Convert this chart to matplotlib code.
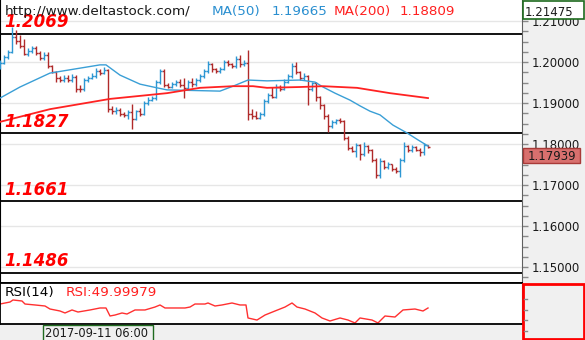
import numpy as np
import matplotlib
matplotlib.use("Agg")
import matplotlib.pyplot as plt
from matplotlib.patches import Rectangle

# EURUSD H4 bars
bar_open = [1.1985, 1.1998, 1.2012, 1.2025, 1.2060, 1.2052, 1.2038, 1.2020, 1.2028, 1.2035,
            1.2022, 1.2010, 1.2018, 1.1990, 1.1976, 1.1960, 1.1955, 1.1962, 1.1956, 1.1964,
            1.1935, 1.1933, 1.1955, 1.1962, 1.1966, 1.1978, 1.1974, 1.1980, 1.1885, 1.1880,
            1.1884, 1.1874, 1.1870, 1.1878, 1.1862, 1.1880, 1.1874, 1.1900, 1.1908, 1.1912,
            1.1950, 1.1978, 1.1944, 1.1940, 1.1946, 1.1950, 1.1944, 1.1936, 1.1950, 1.1946,
            1.1956, 1.1966, 1.1978, 1.1994, 1.1982, 1.1978, 1.1984, 1.2000, 1.1994, 1.1990,
            1.2008, 1.1994, 1.1998, 1.1872, 1.1868, 1.1864, 1.1872, 1.1905, 1.1920, 1.1915,
            1.1940, 1.1935, 1.1952, 1.1965, 1.1990, 1.1975, 1.1960, 1.1966, 1.1935, 1.1948,
            1.1915, 1.1895, 1.1868, 1.1845, 1.1854, 1.1858, 1.1856, 1.1815, 1.1790, 1.1784,
            1.1798, 1.1775, 1.1795, 1.1785, 1.1762, 1.1725, 1.1758, 1.1745, 1.1750, 1.1740,
            1.1735, 1.1760, 1.1795, 1.1785, 1.1792, 1.1786, 1.1780, 1.1797]
bar_high = [1.2005, 1.2016, 1.2030, 1.2085, 1.2078, 1.2066, 1.2055, 1.2034, 1.2040, 1.2040,
            1.2026, 1.2024, 1.2025, 1.1992, 1.1978, 1.1966, 1.1968, 1.1968, 1.1970, 1.1968,
            1.1945, 1.1960, 1.1966, 1.1972, 1.1985, 1.1984, 1.1988, 1.1984, 1.1892, 1.1890,
            1.1888, 1.1878, 1.1882, 1.1898, 1.1884, 1.1888, 1.1905, 1.1914, 1.1918, 1.1955,
            1.1983, 1.1984, 1.1948, 1.1950, 1.1956, 1.1958, 1.1962, 1.1956, 1.1960, 1.1962,
            1.1970, 1.1982, 1.2003, 1.1998, 1.1986, 1.1988, 1.2004, 1.2004, 1.1998, 1.2014,
            1.2018, 1.2004, 1.2030, 1.1885, 1.1880, 1.1878, 1.1910, 1.1925, 1.1940, 1.1946,
            1.1944, 1.1958, 1.1970, 1.1998, 1.2000, 1.1978, 1.1972, 1.1968, 1.1952, 1.1952,
            1.1918, 1.1898, 1.1872, 1.1858, 1.1862, 1.1864, 1.1858, 1.1820, 1.1795, 1.1803,
            1.1800, 1.1805, 1.1798, 1.1788, 1.1765, 1.1765, 1.1762, 1.1756, 1.1752, 1.1745,
            1.1765, 1.1805, 1.1798, 1.1798, 1.1796, 1.1790, 1.1802, 1.1798]
bar_low = [1.1983, 1.1995, 1.2008, 1.2022, 1.2045, 1.2034, 1.2016, 1.2014, 1.2022, 1.2016,
           1.2005, 1.2006, 1.1986, 1.1972, 1.1952, 1.1950, 1.1950, 1.1952, 1.1952, 1.1927,
           1.1928, 1.1930, 1.1950, 1.1958, 1.1962, 1.1968, 1.1970, 1.1878, 1.1872, 1.1874,
           1.1868, 1.1865, 1.1860, 1.1836, 1.1858, 1.1868, 1.1870, 1.1894, 1.1904, 1.1908,
           1.1946, 1.1940, 1.1936, 1.1936, 1.1942, 1.1940, 1.1912, 1.1932, 1.1940, 1.1942,
           1.1952, 1.1962, 1.1974, 1.1976, 1.1974, 1.1972, 1.1980, 1.1990, 1.1986, 1.1986,
           1.1988, 1.1990, 1.1858, 1.1862, 1.1860, 1.1860, 1.1868, 1.1900, 1.1912, 1.1912,
           1.1930, 1.1932, 1.1948, 1.1960, 1.1970, 1.1955, 1.1956, 1.1895, 1.1930, 1.1905,
           1.1885, 1.1860, 1.1830, 1.1840, 1.1848, 1.1850, 1.1810, 1.1785, 1.1780, 1.1768,
           1.1760, 1.1770, 1.1778, 1.1755, 1.1717, 1.1718, 1.1740, 1.1740, 1.1735, 1.1730,
           1.1720, 1.1756, 1.1780, 1.1780, 1.1782, 1.1770, 1.1772, 1.1790]
bar_close = [1.1998, 1.2012, 1.2025, 1.2060, 1.2052, 1.2038, 1.2020, 1.2028, 1.2035, 1.2022,
             1.2010, 1.2018, 1.1990, 1.1976, 1.1960, 1.1955, 1.1962, 1.1956, 1.1964, 1.1935,
             1.1933, 1.1955, 1.1962, 1.1966, 1.1978, 1.1974, 1.1980, 1.1885, 1.1880, 1.1884,
             1.1874, 1.1870, 1.1878, 1.1862, 1.1880, 1.1874, 1.1900, 1.1908, 1.1912, 1.1950,
             1.1978, 1.1944, 1.1940, 1.1946, 1.1950, 1.1944, 1.1936, 1.1950, 1.1946, 1.1956,
             1.1966, 1.1978, 1.1994, 1.1982, 1.1978, 1.1984, 1.2000, 1.1994, 1.1990, 1.2008,
             1.1994, 1.1998, 1.1872, 1.1868, 1.1864, 1.1872, 1.1905, 1.1920, 1.1915, 1.1940,
             1.1935, 1.1952, 1.1965, 1.1990, 1.1975, 1.1960, 1.1966, 1.1935, 1.1948, 1.1915,
             1.1895, 1.1868, 1.1845, 1.1854, 1.1858, 1.1856, 1.1815, 1.1790, 1.1784, 1.1798,
             1.1775, 1.1795, 1.1785, 1.1762, 1.1725, 1.1758, 1.1745, 1.1750, 1.1740, 1.1735,
             1.1760, 1.1795, 1.1785, 1.1792, 1.1786, 1.1780, 1.1797, 1.17939]

# moving averages, sampled at bar positions
ma50_idx = [0, 5, 12.5, 25, 26.5, 30, 35, 39.25, 41.75, 55, 58.25, 62, 66.75, 75, 78.75,
            80.75, 83.75, 87.5, 90, 92.5, 95, 98.25, 101.75, 104.5, 107]
ma50_val = [1.1912, 1.1939, 1.1973, 1.1993, 1.1993, 1.1968, 1.1946, 1.1937, 1.1932, 1.1929,
            1.1941, 1.1956, 1.1954, 1.1956, 1.1951, 1.1939, 1.1924, 1.1907, 1.1893, 1.1880,
            1.1871, 1.1846, 1.1827, 1.1810, 1.1795]
ma200_idx = [0, 12.5, 27.5, 41.75, 50, 58.25, 63.25, 66.75, 75, 80.75, 89.25, 97.5, 107]
ma200_val = [1.1854, 1.1885, 1.1910, 1.1924, 1.1937, 1.1941, 1.1941, 1.1937, 1.1939, 1.1941,
             1.1937, 1.1924, 1.1912]

rsi_idx = [0, 2.5, 3.25, 5.5, 6.25, 8.75, 11.25, 12.5, 15, 16.25, 18, 19.5, 22.5, 25, 26.5,
           27.5, 28.75, 30.5, 31.75, 33.75, 36.25, 38.75, 40, 41.25, 46.25, 47.5, 48.75, 51.25,
           52, 53.75, 55.5, 58, 60, 61.5, 62, 64.25, 66.25, 68.75, 71.25, 73, 74.25, 76.25,
           78.75, 80.5, 82.5, 85, 87, 88.75, 90, 93, 94.5, 96.25, 98.75, 100.75, 103.75,
           105.75, 107]
rsi_val = [56.2, 59.3, 62.5, 60.9, 56.2, 54.7, 53.1, 48.4, 45.3, 42.2, 46.9, 43.7, 46.9, 50.0,
           50.0, 37.5, 39.0, 42.2, 40.6, 46.9, 46.9, 51.5, 54.7, 50.0, 50.0, 51.5, 56.2, 56.2,
           57.8, 53.1, 54.7, 57.8, 54.7, 54.7, 34.4, 31.2, 39.0, 45.3, 51.5, 57.8, 51.5, 48.4,
           42.2, 34.4, 29.7, 34.4, 31.2, 26.6, 34.4, 31.2, 26.6, 37.5, 35.9, 46.9, 48.4,
           45.3, 50.0]

levels = [1.2069, 1.1827, 1.1661, 1.1486]
price_ticks = [1.15, 1.16, 1.17, 1.18, 1.19, 1.20, 1.21]
top_price = "1.21475"
last_price = "1.17939"
ma50_text = "1.19665"
ma200_text = "1.18809"
rsi_text = "RSI:49.99979"
cursor_time = "2017-09-11 06:00"

UP = "#2d97d3"
DOWN = "#b02a2a"
PANEL = "#f0f0f0"
W, H = 585, 340

fig = plt.figure(figsize=(W / 100, H / 100), dpi=100)

# grey background for the price scale and time strip
bg = fig.add_axes([0, 0, 1, 1], zorder=-1)
bg.set_xlim(0, W)
bg.set_ylim(H, 0)
bg.axis("off")
bg.add_patch(Rectangle((0, 0), W, H, facecolor=PANEL, edgecolor="none"))

# ---- price panel ----
ax = fig.add_axes([0, 57 / H, 522 / W, 283 / H])
ax.set_facecolor("white")
ax.set_xlim(0, 130.5)
ax.set_ylim(1.2 - 221 / 4100, 1.2 + 62 / 4100)

idx = np.arange(len(bar_close))
o = np.array(bar_open)
c = np.array(bar_close)
cols = np.where(c >= o, UP, DOWN)
ax.vlines(idx, bar_low, bar_high, colors=cols, lw=1.0, zorder=3)
ax.hlines(o, idx - 0.5, idx, colors=cols, lw=1.0, zorder=3)
ax.hlines(c, idx, idx + 0.5, colors=cols, lw=1.0, zorder=3)

ax.plot(ma50_idx, ma50_val, color="#3a9fd6", lw=1.0, zorder=4)
ax.plot(ma200_idx, ma200_val, color="#ff2222", lw=1.3, zorder=4)

# support / resistance levels with their tags
for lv in levels:
    ax.axhline(lv, color="black", lw=1.3, zorder=2)
    ax.annotate(f"{lv:.4f}", xy=(0, lv), xycoords=("axes fraction", "data"),
                xytext=(3, 4.5), textcoords="offset points", va="baseline", ha="left",
                fontsize=12, fontweight="bold", fontstyle="italic", color="#ff0000", zorder=6)

ax.set_yticks(price_ticks)
ax.set_yticklabels([f"{t:.5f}" for t in price_ticks])
ax.set_yticks(np.arange(1.1475, 1.215, 0.0025), minor=True)
ax.yaxis.tick_right()
ax.tick_params(axis="y", which="both", direction="out", length=4, width=1,
               color="#8a8a8a", labelsize=8.5, labelcolor="#1a1a1a", pad=3)
ax.set_xticks([])
ax.grid(axis="y", which="major", color="#e6e6e6", lw=1)
ax.set_axisbelow(True)
ax.spines["top"].set_visible(False)
ax.spines["left"].set_color("black")
ax.spines["bottom"].set_color("black")
ax.spines["bottom"].set_linewidth(1.3)
ax.spines["right"].set_color("#606060")

# ---- RSI panel ----
ar = fig.add_axes([0, 16 / H, 522 / W, 41 / H])
ar.set_facecolor("white")
ar.set_xlim(0, 130.5)
ar.set_ylim(25, 89)
ar.plot(rsi_idx, rsi_val, color="#ff3030", lw=1.0)
ar.set_xticks([])
ar.set_yticks([])
for side in ["top", "bottom", "left"]:
    ar.spines[side].set_color("black")
    ar.spines[side].set_linewidth(1.3)
ar.spines["right"].set_color("#606060")
ar.text(5 / 522, 0.78, "RSI(14)", transform=ar.transAxes, fontsize=9.7,
        color="black", va="center")
ar.text(66 / 522, 0.78, rsi_text, transform=ar.transAxes, fontsize=9.7,
        color="#ff2020", va="center")

# ---- overlay: header, price boxes, time label ----
top = fig.add_axes([0, 0, 1, 1], zorder=10)
top.set_xlim(0, W)
top.set_ylim(H, 0)
top.axis("off")
top.patch.set_alpha(0)

top.text(5, 15, "http://www.deltastock.com/", fontsize=9.7, color="#1a1a1a", va="baseline")
top.text(212, 15, "MA(50)", fontsize=9.7, color="#2a8fd0", va="baseline")
top.text(272, 15, ma50_text, fontsize=9.7, color="#2a8fd0", va="baseline")
top.text(334, 15, "MA(200)", fontsize=9.7, color="#ff2020", va="baseline")
top.text(400, 15, ma200_text, fontsize=9.7, color="#ff2020", va="baseline")

top.add_patch(Rectangle((522.5, 0.5), 61.5, 18.5, facecolor="white",
                        edgecolor="#1f6b1f", lw=1.2))
top.text(525, 15.5, top_price, fontsize=8.5, color="#1a1a1a", va="baseline")

top.add_patch(Rectangle((522.5, 148), 57, 15, facecolor="#d8706e",
                        edgecolor="#a83a38", lw=1.0))
top.text(528, 160, last_price, fontsize=8.5, color="#1a1a1a", va="baseline")

top.add_patch(Rectangle((523, 284), 60.5, 54.5, facecolor=PANEL,
                        edgecolor="#ff0000", lw=2))
for ty in [299, 310, 320, 331]:
    top.plot([524, 527], [ty, ty], color="#8a8a8a", lw=1)

top.add_patch(Rectangle((43, 324.5), 110, 16, facecolor=PANEL,
                        edgecolor="#1f6b1f", lw=1.0))
top.text(45, 337, cursor_time, fontsize=8.3, color="#1a1a1a", va="baseline")

fig.savefig("out.png", dpi=100)
